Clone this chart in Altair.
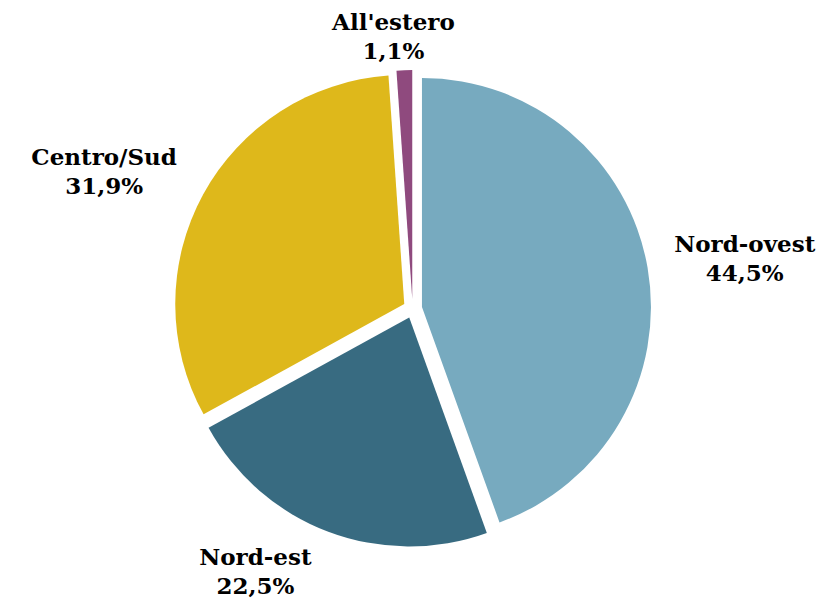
import altair as alt
import pandas as pd

# Data
categories = ["Nord-ovest", "Nord-est", "Centro/Sud", "All'estero"]
shares = [44.5, 22.5, 31.9, 1.1]
colors = ["#77AABF", "#386B81", "#DEB81B", "#8F4A7E"]

df = pd.DataFrame({"name": categories, "value": shares, "idx": list(range(len(categories)))})

# layout constants (pixels in chart space)
CX, CY = 404.6, 300.6   # pie centre
R = 229                 # pie radius
D = 9.5                 # explode offset
RL = 258                # label anchor radius
LH = 29                 # label line height
HH = 18                 # half label block height

base = (
    alt.Chart(df)
    .transform_window(cum="sum(value)", sort=[alt.SortField("idx")], frame=[None, 0])
    .transform_joinaggregate(total="sum(value)")
    .transform_calculate(
        t1="2*PI*datum.cum/datum.total",
        t0="2*PI*(datum.cum-datum.value)/datum.total",
    )
    .transform_calculate(mid="(datum.t0+datum.t1)/2")
    .transform_calculate(
        px=f"{CX}+{D}*sin(datum.mid)",
        py=f"{CY}-{D}*cos(datum.mid)",
        pct="replace(format(datum.value, '.1f'), '.', ',') + '%'",
    )
    .transform_calculate(
        label="datum.name + '\\n' + datum.pct",
        hw="8*max(length(datum.name), length(datum.pct))",
    )
    .transform_calculate(
        lx=f"{CX}+{RL}*sin(datum.mid)+datum.hw*clamp(3*sin(datum.mid),-1,1)-2",
        ly=f"{CY}-{RL}*cos(datum.mid)-{HH}*clamp(3*cos(datum.mid),-1,1)-{LH/2}+5",
    )
)

pie = base.mark_arc(outerRadius=R, stroke=None).encode(
    x=alt.X("px:Q", scale=None, axis=None),
    y=alt.Y("py:Q", scale=None, axis=None),
    theta=alt.Theta("t0:Q", scale=None, stack=None),
    theta2=alt.Theta2("t1:Q"),
    color=alt.Color("name:N", scale=alt.Scale(domain=categories, range=colors), legend=None),
)

labels = base.mark_text(
    font="DejaVu Serif", fontWeight="bold", fontSize=23, lineHeight=LH,
    lineBreak="\n", align="center", baseline="middle", color="black",
).encode(
    x=alt.X("lx:Q", scale=None, axis=None),
    y=alt.Y("ly:Q", scale=None, axis=None),
    text=alt.Text("label:N"),
)

chart = (
    alt.layer(pie, labels)
    .properties(width=822, height=591, padding=0, autosize=alt.AutoSizeParams(type="none"))
    .configure_view(stroke=None)
)

chart.save("out.html", embed_options={"renderer": "svg", "actions": False})
